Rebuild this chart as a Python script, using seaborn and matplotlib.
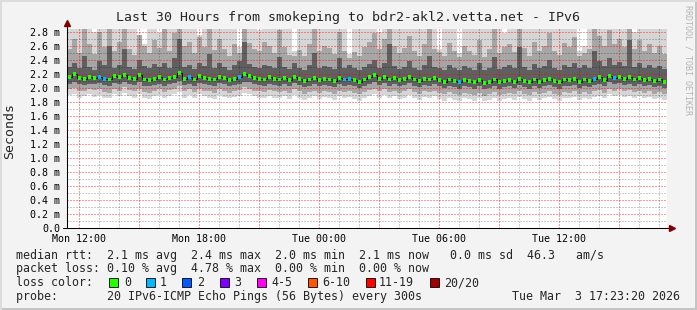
import numpy as np
import seaborn as sns
import matplotlib.pyplot as plt
from matplotlib.lines import Line2D
from matplotlib.patches import Rectangle

# ---- data (15 minute steps, starting Mon 11:24, values in ms) ----
start_hour = 11.4
step_hours = 0.25

median = [2.16, 2.20, 2.14, 2.13, 2.15, 2.14, 2.16, 2.13, 2.12, 2.17, 2.15, 2.19, 2.14, 2.13, 2.18, 2.12, 2.11, 2.13, 2.15, 2.12,
          2.14, 2.16, 2.21, 2.13, 2.15, 2.12, 2.17, 2.14, 2.13, 2.12, 2.16, 2.14, 2.11, 2.13, 2.15, 2.20, 2.17, 2.14, 2.13, 2.12,
          2.15, 2.13, 2.12, 2.14, 2.11, 2.16, 2.13, 2.10, 2.12, 2.14, 2.11, 2.13, 2.12, 2.10, 2.14, 2.12, 2.13, 2.11, 2.09, 2.12,
          2.15, 2.18, 2.13, 2.16, 2.12, 2.14, 2.11, 2.13, 2.16, 2.12, 2.10, 2.13, 2.12, 2.14, 2.11, 2.09, 2.12, 2.10, 2.08, 2.11,
          2.10, 2.08, 2.11, 2.07, 2.09, 2.12, 2.08, 2.10, 2.11, 2.09, 2.13, 2.10, 2.08, 2.12, 2.09, 2.11, 2.13, 2.10, 2.08, 2.12,
          2.11, 2.13, 2.09, 2.12, 2.10, 2.13, 2.15, 2.11, 2.17, 2.14, 2.16, 2.13, 2.15, 2.12, 2.14, 2.11, 2.13, 2.10, 2.12, 2.09]

hi1 = [2.30, 2.35, 2.28, 2.45, 2.30, 2.26, 2.38, 2.32, 2.60, 2.29, 2.33, 2.55, 2.30, 2.27, 2.40, 2.31, 2.28, 2.34, 2.30, 2.36,
       2.28, 2.42, 2.70, 2.30, 2.33, 2.27, 2.36, 2.31, 2.48, 2.29, 2.35, 2.30, 2.26, 2.32, 2.38, 2.65, 2.34, 2.30, 2.29, 2.33,
       2.31, 2.28, 2.44, 2.30, 2.27, 2.36, 2.29, 2.26, 2.33, 2.50, 2.28, 2.31, 2.30, 2.27, 2.42, 2.29, 2.33, 2.28, 2.26, 2.30,
       2.34, 2.40, 2.29, 2.35, 2.62, 2.31, 2.27, 2.30, 2.38, 2.29, 2.26, 2.32, 2.45, 2.30, 2.28, 2.26, 2.33, 2.29, 2.25, 2.31,
       2.28, 2.26, 2.35, 2.25, 2.29, 2.44, 2.27, 2.30, 2.32, 2.28, 2.58, 2.30, 2.26, 2.34, 2.29, 2.31, 2.40, 2.28, 2.26, 2.33,
       2.30, 2.36, 2.28, 2.33, 2.29, 2.52, 2.38, 2.31, 2.42, 2.33, 2.37, 2.31, 2.68, 2.30, 2.35, 2.29, 2.32, 2.28, 2.31, 2.27]

hi2 = [2.55, 2.70, 2.50, 2.90, 2.62, 2.48, 2.80, 2.58, 2.90, 2.52, 2.66, 2.90, 2.55, 2.47, 2.75, 2.60, 2.50, 2.68, 2.57, 2.85,
       2.52, 2.78, 2.90, 2.60, 2.65, 2.49, 2.72, 2.58, 2.90, 2.54, 2.70, 2.56, 2.46, 2.62, 2.50, 2.90, 2.64, 2.55, 2.52, 2.66,
       2.60, 2.50, 2.82, 2.58, 2.47, 2.45, 2.54, 2.46, 2.63, 2.90, 2.52, 2.60, 2.57, 2.48, 2.80, 2.53, 2.42, 2.51, 2.45, 2.58,
       2.66, 2.78, 2.55, 2.70, 2.90, 2.60, 2.49, 2.57, 2.74, 2.53, 2.46, 2.62, 2.86, 2.56, 2.51, 2.45, 2.64, 2.52, 2.44, 2.60,
       2.52, 2.47, 2.68, 2.44, 2.55, 2.84, 2.50, 2.58, 2.62, 2.51, 2.90, 2.57, 2.46, 2.66, 2.53, 2.60, 2.78, 2.52, 2.47, 2.64,
       2.58, 2.72, 2.45, 2.50, 2.55, 2.90, 2.74, 2.59, 2.82, 2.63, 2.70, 2.58, 2.90, 2.56, 2.68, 2.53, 2.62, 2.50, 2.60, 2.48]

hi3 = [3.00, 3.00, 2.95, 3.00, 3.00, 2.80, 3.00, 3.00, 3.00, 3.00, 2.92, 3.00, 3.00, 3.00, 2.55, 2.62, 3.00, 3.00, 2.78, 3.00,
       3.00, 3.00, 3.00, 2.88, 3.00, 3.00, 2.76, 3.00, 3.00, 3.00, 3.00, 2.95, 3.00, 3.00, 2.58, 3.00, 3.00, 3.00, 2.82, 3.00,
       3.00, 3.00, 3.00, 2.85, 3.00, 2.52, 3.00, 3.00, 3.00, 3.00, 2.90, 3.00, 3.00, 3.00, 3.00, 3.00, 2.48, 3.00, 3.00, 3.00,
       3.00, 3.00, 2.80, 3.00, 3.00, 3.00, 2.92, 3.00, 3.00, 3.00, 3.00, 3.00, 3.00, 3.00, 2.56, 3.00, 3.00, 3.00, 2.50, 3.00,
       3.00, 3.00, 3.00, 2.86, 3.00, 3.00, 3.00, 2.78, 3.00, 3.00, 3.00, 3.00, 2.90, 3.00, 3.00, 3.00, 3.00, 3.00, 3.00, 2.84,
       3.00, 3.00, 2.52, 2.60, 3.00, 3.00, 3.00, 2.88, 3.00, 3.00, 3.00, 3.00, 3.00, 2.80, 3.00, 3.00, 3.00, 2.90, 3.00, 3.00]

lo1 = [2.06, 2.08, 2.05, 2.04, 2.06, 2.05, 2.07, 2.04, 2.03, 2.07, 2.05, 2.09, 2.05, 2.04, 2.08, 2.03, 2.02, 2.04, 2.06, 2.03,
       2.05, 2.07, 2.10, 2.04, 2.06, 2.03, 2.07, 2.05, 2.04, 2.03, 2.07, 2.05, 2.02, 2.04, 2.06, 2.09, 2.08, 2.05, 2.04, 2.03,
       2.06, 2.04, 2.03, 2.05, 2.02, 2.07, 2.04, 2.01, 2.03, 2.05, 2.02, 2.04, 2.03, 2.01, 2.05, 2.03, 2.04, 2.02, 2.00, 2.03,
       2.06, 2.08, 2.04, 2.07, 2.03, 2.05, 2.02, 2.04, 2.07, 2.03, 2.01, 2.04, 2.03, 2.05, 2.02, 2.00, 2.03, 2.01, 1.99, 2.02,
       2.01, 1.99, 2.02, 1.98, 2.00, 2.03, 1.99, 2.01, 2.02, 2.00, 2.04, 2.01, 1.99, 2.03, 2.00, 2.02, 2.04, 2.01, 1.99, 2.03,
       2.02, 2.04, 2.00, 2.03, 2.01, 2.04, 2.06, 2.02, 2.08, 2.05, 2.07, 2.04, 2.06, 2.03, 2.05, 2.02, 2.04, 2.01, 2.03, 2.00]

lo2 = [1.98, 2.00, 1.96, 1.95, 1.99, 1.97, 1.98, 1.94, 1.93, 1.99, 1.96, 2.01, 1.97, 1.95, 1.99, 1.94, 1.93, 1.96, 1.98, 1.94,
       1.97, 1.99, 2.02, 1.95, 1.98, 1.94, 1.99, 1.96, 1.95, 1.93, 1.98, 1.96, 1.93, 1.95, 1.97, 2.01, 1.99, 1.96, 1.95, 1.94,
       1.97, 1.95, 1.94, 1.96, 1.93, 1.98, 1.95, 1.92, 1.94, 1.96, 1.93, 1.95, 1.94, 1.92, 1.96, 1.94, 1.95, 1.93, 1.91, 1.94,
       1.97, 1.99, 1.95, 1.98, 1.94, 1.96, 1.93, 1.95, 1.98, 1.94, 1.92, 1.95, 1.94, 1.96, 1.93, 1.91, 1.94, 1.92, 1.90, 1.93,
       1.92, 1.90, 1.93, 1.89, 1.91, 1.94, 1.90, 1.92, 1.93, 1.91, 1.95, 1.92, 1.90, 1.94, 1.91, 1.93, 1.95, 1.92, 1.90, 1.94,
       1.93, 1.95, 1.91, 1.94, 1.92, 1.95, 1.97, 1.93, 1.99, 1.96, 1.98, 1.95, 1.97, 1.94, 1.96, 1.93, 1.95, 1.92, 1.94, 1.91]

lo3 = [1.90, 1.92, 1.86, 1.88, 1.91, 1.87, 1.90, 1.85, 1.86, 1.92, 1.88, 1.93, 1.89, 1.86, 1.91, 1.85, 1.84, 1.88, 1.90, 1.86,
       1.89, 1.91, 1.94, 1.86, 1.90, 1.85, 1.91, 1.88, 1.86, 1.84, 1.90, 1.87, 1.85, 1.87, 1.89, 1.93, 1.91, 1.88, 1.86, 1.85,
       1.89, 1.86, 1.85, 1.88, 1.84, 1.90, 1.86, 1.83, 1.85, 1.88, 1.84, 1.87, 1.85, 1.83, 1.88, 1.85, 1.87, 1.84, 1.82, 1.86,
       1.89, 1.91, 1.86, 1.90, 1.85, 1.88, 1.84, 1.86, 1.90, 1.85, 1.83, 1.87, 1.85, 1.88, 1.84, 1.82, 1.86, 1.83, 1.81, 1.85,
       1.84, 1.82, 1.85, 1.81, 1.83, 1.86, 1.82, 1.84, 1.85, 1.83, 1.87, 1.84, 1.82, 1.86, 1.83, 1.85, 1.87, 1.84, 1.82, 1.86,
       1.85, 1.87, 1.83, 1.86, 1.84, 1.87, 1.89, 1.85, 1.91, 1.88, 1.90, 1.87, 1.89, 1.86, 1.88, 1.85, 1.87, 1.84, 1.86, 1.83]

# packets lost (out of 20) where not zero
loss_at = {6: 1, 7: 1, 24: 1, 34: 1, 55: 1, 56: 1, 78: 1, 105: 1, 109: 1}

x_tick_hours = [12, 18, 24, 30, 36]
x_tick_labels = ['Mon 12:00', 'Mon 18:00', 'Tue 00:00', 'Tue 06:00', 'Tue 12:00']

loss_labels = ['0', '1', '2', '3', '4-5', '6-10', '11-19', '20/20']
loss_colors = ['#26ff00', '#00b8ff', '#0059ff', '#7e00ff', '#ff00f0', '#ff5500', '#ff0000', '#a10000']

# ---- build ----
sns.set_style('white')
plt.rcParams['font.family'] = ['DejaVu Sans Mono']

n = len(median)
hours = start_hour + step_hours * np.arange(n)
edges = np.append(hours, hours[-1] + step_hours)
centers = hours + step_hours / 2
loss = np.array([loss_at.get(i, 0) for i in range(n)])

def stepped(v):
    return np.append(v, v[-1])

W, H = 697, 310
fig = plt.figure(figsize=(W / 100, H / 100), dpi=100, facecolor='#f3f3f3')
ax = fig.add_axes([67 / W, 1 - 228.3 / H, 600 / W, 199.8 / H])
ax.set_facecolor('white')

# smoke
ax.fill_between(edges, stepped(lo3), stepped(hi3), step='post', color='#d6d6d6', lw=0, zorder=0.5)
ax.fill_between(edges, stepped(lo2), stepped(hi2), step='post', color='#a6a6a6', lw=0, zorder=0.6)
ax.fill_between(edges, stepped(lo1), stepped(hi1), step='post', color='#606060', lw=0, zorder=0.7)

# median
sns.lineplot(x=centers, y=median, drawstyle='steps-mid', color='#111111', lw=0.7, ax=ax, zorder=3)
dot_colors = [loss_colors[1] if l == 1 else loss_colors[0] for l in loss]
sns.scatterplot(x=centers, y=median, marker='s', s=8, c=dot_colors, linewidth=0, ax=ax, zorder=4)

ax.set_xlim(start_hour, start_hour + 30)
ax.set_ylim(0, 2.846)

# grid
ax.set_xticks(np.arange(12, 42, 3))
ax.set_xticklabels([x_tick_labels[x_tick_hours.index(h)] if h in x_tick_hours else '' for h in range(12, 42, 3)])
ax.set_xticks(np.arange(12, 42, 1), minor=True)
yt = np.round(np.arange(0, 2.81, 0.2), 1)
ax.set_yticks(yt)
ax.set_yticklabels(['0.0'] + ['%.1f m' % v for v in yt[1:]])
ax.set_yticks(np.round(np.arange(0.1, 2.85, 0.1), 1), minor=True)
ax.grid(which='major', color='#ff0000', alpha=0.4, ls=(0, (1, 1)), lw=1.0, antialiased=False)
ax.grid(which='minor', color='#000000', alpha=0.2, ls=(0, (1, 1)), lw=1.0, antialiased=False)
ax.set_axisbelow('line')
ax.tick_params(which='both', direction='out', length=1.5, width=0.7, color='#999999',
               labelsize=7.2, pad=3.5, labelcolor='black')
ax.tick_params(axis='x', pad=2.5)
for s in ax.spines.values():
    s.set_visible(False)

# axes with arrows
ax.add_line(Line2D([0, 0], [0, 1.017], transform=ax.transAxes, color='black', lw=0.75, clip_on=False, zorder=5))
ax.add_line(Line2D([-0.006, 1.004], [0, 0], transform=ax.transAxes, color='black', lw=0.75, clip_on=False, zorder=5))
ax.plot([0], [1.026], marker='^', ms=4, color='#7f0000', transform=ax.transAxes, clip_on=False, zorder=6)
ax.plot([1.008], [0], marker='>', ms=4, color='#7f0000', transform=ax.transAxes, clip_on=False, zorder=6)

# texts
fig.text(0.5, 1 - 18 / H, 'Last 30 Hours from smokeping to bdr2-akl2.vetta.net - IPv6',
         ha='center', va='center', fontsize=9.5)
fig.text(10 / W, 1 - 131 / H, 'Seconds', rotation=90, ha='center', va='center', fontsize=9.5)
fig.text(688 / W, 1 - 60 / H, 'RRDTOOL / TOBI OETIKER', rotation=-90, ha='center', va='center',
         fontsize=6, color='#b4b4b4')

lx = 16 / W
fs = 8.42
fig.text(lx, 1 - 255 / H, 'median rtt:  2.1 ms avg  2.4 ms max  2.0 ms min  2.1 ms now   0.0 ms sd  46.3   am/s',
         va='center', fontsize=fs)
fig.text(lx, 1 - 268.7 / H, 'packet loss: 0.10 % avg  4.78 % max  0.00 % min  0.00 % now', va='center', fontsize=fs)
fig.text(lx, 1 - 282.5 / H, 'loss color:', va='center', fontsize=fs)
fig.text(lx, 1 - 296.5 / H, 'probe:       20 IPv6-ICMP Echo Pings (56 Bytes) every 300s', va='center', fontsize=fs)
fig.text(680 / W, 1 - 296.5 / H, 'Tue Mar  3 17:23:20 2026', ha='right', va='center', fontsize=fs)

box_x = [109, 146, 182, 220, 257, 308, 366, 430]
lab_x = [124, 160, 197, 234, 271, 322, 379, 444]
for bx, tx, lab, col in zip(box_x, lab_x, loss_labels, loss_colors):
    fig.patches.append(Rectangle((bx / W, 1 - 287 / H), 9 / W, 9 / H, transform=fig.transFigure,
                                 facecolor=col, edgecolor='black', lw=0.6))
    fig.text(tx / W, 1 - 282.5 / H, lab, va='center', fontsize=fs)

# outer frame
fig.patches.append(Rectangle((0, 0), 1, 2 / H, transform=fig.transFigure, color='#c4c4c4', lw=0))
fig.patches.append(Rectangle((1 - 2 / W, 0), 2 / W, 1, transform=fig.transFigure, color='#c4c4c4', lw=0))
fig.patches.append(Rectangle((0, 1 - 2 / H), 1, 2 / H, transform=fig.transFigure, color='#dcdcdc', lw=0))
fig.patches.append(Rectangle((0, 0), 2 / W, 1, transform=fig.transFigure, color='#dcdcdc', lw=0))

fig.savefig('out.png', dpi=100, facecolor=fig.get_facecolor())
